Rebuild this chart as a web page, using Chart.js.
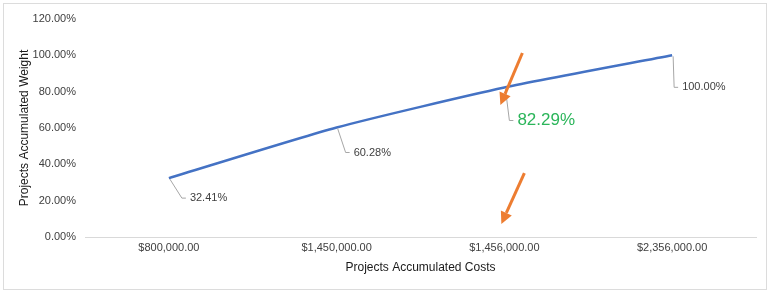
<!DOCTYPE html>
<html>
<head>
<meta charset="utf-8">
<script src="https://cdn.jsdelivr.net/npm/chart.js@4/dist/chart.umd.min.js"></script>
<style>
  html, body { margin: 0; padding: 0; background: #fff; }
  #wrap { width: 768px; height: 294px; position: relative; }
</style>
</head>
<body>
<div id="wrap"><canvas id="costChart" width="768" height="294"></canvas></div>
<script>
let costs = ['$800,000.00', '$1,450,000.00', '$1,456,000.00', '$2,356,000.00'];
let weights = [32.41, 60.28, 82.29, 100.00];
let yTicks = [0, 20, 40, 60, 80, 100, 120];

// label placement, pixels from the point (text left edge / middle)
let labelOffsets = [
  {dx: 21, dy: 20},
  {dx: 17, dy: 25},
  {dx: 13, dy: 33},
  {dx: 10, dy: 32}
];
let highlightIndex = 2;

// orange arrows: category index, y values for tail / tip, px shift
let arrows = [
  {index: 2, from: 101.3, to: 72.7, dxFrom: 18, dxTo: -4},
  {index: 2, from: 35.2, to: 7.2, dxFrom: 20, dxTo: -3}
];

let ctx = document.getElementById('costChart');

function drawArrow(c, x1, y1, x2, y2, color) {
  let ang = Math.atan2(y2 - y1, x2 - x1);
  let head = 12, wid = 6;
  let bx = x2 - head * Math.cos(ang);
  let by = y2 - head * Math.sin(ang);
  c.strokeStyle = color;
  c.fillStyle = color;
  c.lineWidth = 3;
  c.beginPath();
  c.moveTo(x1, y1);
  c.lineTo(bx, by);
  c.stroke();
  c.beginPath();
  c.moveTo(x2, y2);
  c.lineTo(bx + wid * Math.sin(ang), by - wid * Math.cos(ang));
  c.lineTo(bx - wid * Math.sin(ang), by + wid * Math.cos(ang));
  c.closePath();
  c.fill();
}

let extras = {
  id: 'extras',
  beforeDraw(chart) {
    let c = chart.ctx;
    c.save();
    c.strokeStyle = '#dcdcdc';
    c.lineWidth = 1;
    c.strokeRect(3.5, 3.5, 763, 286);
    c.restore();
  },
  afterDatasetsDraw(chart) {
    let c = chart.ctx;
    let meta = chart.getDatasetMeta(0);
    let xs = chart.scales.x, ys = chart.scales.y;
    c.save();
    meta.data.forEach((pt, i) => {
      let off = labelOffsets[i];
      let tx = pt.x + off.dx, ty = pt.y + off.dy;
      c.strokeStyle = '#a6a6a6';
      c.lineWidth = 1;
      c.beginPath();
      c.moveTo(pt.x + 1, pt.y + 1);
      c.lineTo(tx - 8, ty);
      c.lineTo(tx - 4, ty);
      c.stroke();
      let big = i === highlightIndex;
      c.font = big ? '17px "Liberation Sans", Arial, sans-serif' : '11px "Liberation Sans", Arial, sans-serif';
      c.fillStyle = big ? '#2bb55a' : '#404040';
      c.textAlign = 'left';
      c.textBaseline = 'middle';
      c.fillText(weights[i].toFixed(2) + '%', tx, ty);
    });
    arrows.forEach(a => {
      let x = xs.getPixelForValue(a.index);
      drawArrow(c, x + a.dxFrom, ys.getPixelForValue(a.from),
                x + a.dxTo, ys.getPixelForValue(a.to), '#ed7d31');
    });
    c.restore();
  }
};

let costChart = new Chart(ctx, {
  type: 'line',
  data: {
    labels: costs,
    datasets: [{
      label: 'Weight',
      data: weights,
      borderColor: '#4472c4',
      borderWidth: 2.5,
      pointRadius: 0,
      tension: 0.2,
      fill: false
    }]
  },
  options: {
    responsive: false,
    animation: false,
    layout: { padding: { left: 10, top: 19, right: 12, bottom: 0 } },
    plugins: { legend: { display: false }, tooltip: { enabled: false } },
    scales: {
      x: {
        offset: true,
        afterFit: scale => { scale.height = 57; },
        grid: { display: false, drawTicks: false },
        border: { display: true, color: '#d9d9d9', width: 1 },
        ticks: {
          color: '#404040',
          padding: 4,
          maxRotation: 0,
          font: { family: '"Liberation Sans", Arial, sans-serif', size: 11 }
        },
        title: {
          display: true,
          text: 'Projects Accumulated Costs',
          color: '#1a1a1a',
          padding: { top: 3, bottom: 19 },
          font: { family: '"Liberation Sans", Arial, sans-serif', size: 12 }
        }
      },
      y: {
        min: 0,
        max: 120,
        afterFit: scale => { scale.width = 75; },
        afterBuildTicks: scale => { scale.ticks = yTicks.map(v => ({value: v})); },
        grid: { display: false, drawTicks: false },
        border: { display: false },
        ticks: {
          color: '#404040',
          padding: 9,
          callback: v => v.toFixed(2) + '%',
          font: { family: '"Liberation Sans", Arial, sans-serif', size: 11 }
        },
        title: {
          display: true,
          text: 'Projects Accumulated Weight',
          color: '#1a1a1a',
          padding: { top: 7, bottom: 4 },
          font: { family: '"Liberation Sans", Arial, sans-serif', size: 12 }
        }
      }
    }
  },
  plugins: [extras]
});
</script>
</body>
</html>
